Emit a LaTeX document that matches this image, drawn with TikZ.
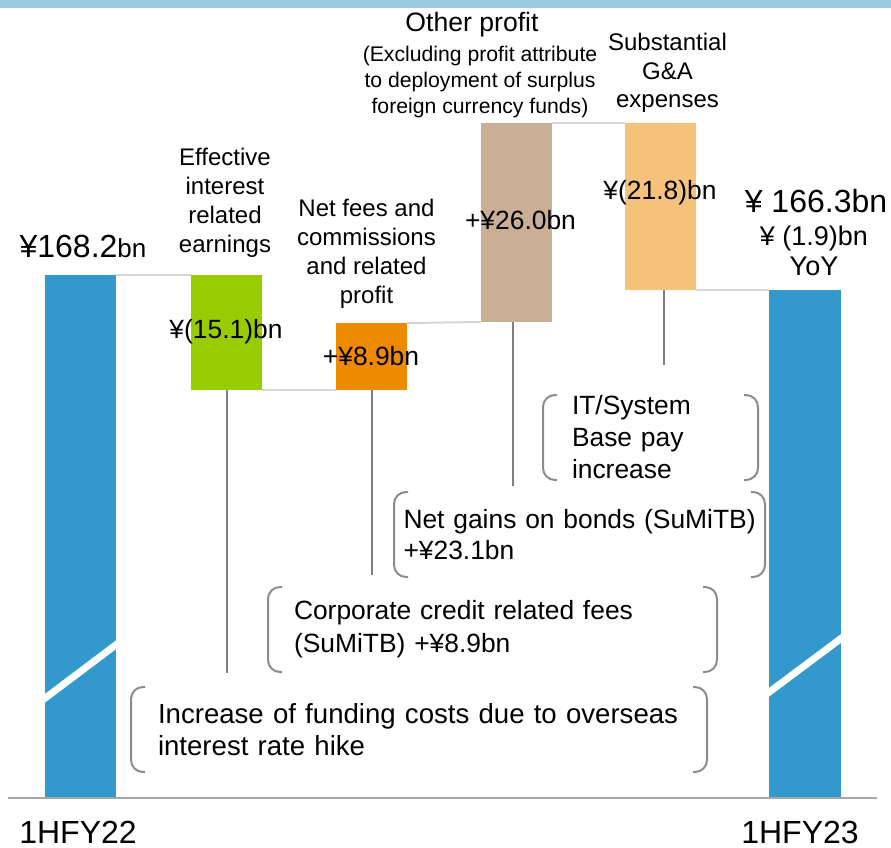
\documentclass[tikz,border=0pt]{standalone}
\usepackage{fontspec}
\setmainfont{Liberation Sans}
\usetikzlibrary{positioning}
\definecolor{barblue}{HTML}{3399CC}
\definecolor{bargreen}{HTML}{99CC00}
\definecolor{barorange}{HTML}{EE8A00}
\definecolor{bartan}{HTML}{C9AF96}
\definecolor{barpeach}{HTML}{F5C27C}
\definecolor{bandblue}{HTML}{9ACBE3}
\definecolor{linkgray}{HTML}{D6D6D6}
\definecolor{stemgray}{HTML}{7F7F7F}
\definecolor{parengray}{HTML}{8C8C8C}
\definecolor{axisgray}{HTML}{A6A6A6}
\newcommand\fsz[2]{\fontsize{#1}{#2}\selectfont}

\begin{document}
\begin{tikzpicture}[x=0.5pt,y=-0.5pt]
	\tikzset{
		bar/.style={rectangle, inner sep=0pt, outer sep=0pt, minimum width=35.5pt, anchor=north west},
		link/.style={draw=linkgray, line width=1pt},
		stem/.style={draw=stemgray, line width=1pt},
		paren/.style={draw=parengray, line width=1pt, rounded corners=6pt},
		brk/.style={draw=white, line width=3.5pt},
		lbl/.style={inner sep=0pt, align=center, font=\fsz{12}{14.5}},
		val/.style={inner sep=0pt, align=center, font=\fsz{13.2}{15.5}},
		grp/.style={rectangle, inner ysep=0pt, outer sep=0pt, minimum height=42.5pt, align=left, font=\fsz{13.2}{16}}
	}
	\useasboundingbox (0,0) rectangle (891,848);
	\fill[bandblue] (0,0) rectangle (891,8);

	% bars
	\node[bar, fill=barblue, minimum height=261.5pt] (b1) at (45,275) {};
	\node[bar, fill=bargreen, minimum height=57.5pt] (gb) at (191,275) {};
	\node[bar, fill=barorange, minimum height=33.5pt] (ob) at (336,323) {};
	\node[bar, fill=bartan, minimum height=99.5pt] (tb) at (481,123) {};
	\node[bar, fill=barpeach, minimum height=83.5pt] (pb) at (625,123) {};
	\node[bar, fill=barblue, minimum height=254pt, minimum width=36pt] (b2) at (769,290) {};
	\draw[brk] (40,702) -- (121,641);
	\draw[brk] (764,696) -- (847,634);

	% axis
	\draw[draw=axisgray, line width=1pt] (8,798) -- (877,798);

	% links between bars
	\draw[link] (b1.north east) -- (gb.north west);
	\draw[link] (gb.south east) -- (ob.south west);
	\draw[link] (ob.north east) -- (tb.south west);
	\draw[link] (tb.north east) -- (pb.north west);
	\draw[link] (pb.south east) -- (b2.north west);

	% breakdown groups
	\node[grp, text width=78.5pt, inner xsep=14.5pt] (itGrp) at (650.5,437.5) {IT/System\\Base pay\\increase};
	\node[grp, text width=176pt, inner xsep=4.75pt, font=\fsz{13.2}{15.5}] (bondGrp) at (579.5,534.5) {\mbox{Net gains on bonds (SuMiTB)}\\+¥23.1bn};
	\node[grp, text width=198.5pt, inner xsep=13pt, font=\fsz{13.2}{16.5}] (corpGrp) at (492.5,629.5) {Corporate credit related fees\\(SuMiTB) +¥8.9bn};
	\node[grp, text width=261pt, inner xsep=13.5pt, font=\fsz{13.8}{16}] (incGrp) at (419,729.5) {\mbox{Increase of funding costs due to overseas}\\interest rate hike};
	\foreach \g in {itGrp,bondGrp,corpGrp,incGrp} {
		\draw[paren] ([xshift=7pt]\g.north west) -- (\g.north west) -- (\g.south west) -- ([xshift=7pt]\g.south west);
		\draw[paren] ([xshift=-7pt]\g.north east) -- (\g.north east) -- (\g.south east) -- ([xshift=-7pt]\g.south east);
	}

	% stems
	\draw[stem] (gb.south) -- ([yshift=7pt]gb.south |- incGrp.north);
	\draw[stem] (ob.south) -- ([yshift=6pt]ob.south |- corpGrp.north);
	\draw[stem] ([xshift=-2pt]tb.south) -- ([xshift=-2pt,yshift=3pt]tb.south |- bondGrp.north);
	\draw[stem] ([xshift=1.5pt]pb.south) -- ([xshift=1.5pt,yshift=15pt]pb.south |- itGrp.north);

	% labels
	\node[inner sep=0pt] (startVal) at (83,246) {\fsz{16}{19}¥168.2\fsz{13}{15}bn};
	\node[lbl] (effLbl) at (225,203) {Effective\\interest\\related\\earnings};
	\node[lbl] (feeLbl) at (366.5,254) {Net fees and\\commissions\\and related\\profit};
	\node[inner sep=0pt, font=\fsz{13.3}{16}] (othTitle) at (472,25) {Other profit};
	\node[inner sep=0pt, align=center, font=\fsz{10.6}{13}] (othSub) at (480,82) {(Excluding profit attribute\\to deployment of surplus\\foreign currency funds)};
	\node[lbl, font=\fsz{12}{14.25}] (gaLbl) at (667.5,73) {Substantial\\G\&A\\expenses};

	\node[val] (effVal) at (226,332) {¥(15.1)bn};
	\node[val] (feeVal) at (371,356) {+¥8.9bn};
	\node[val] (othVal) at (520.5,220) {+¥26.0bn};
	\node[val] (gaVal) at (660,193) {¥(21.8)bn};

	\node[inner sep=0pt, font=\fsz{16}{19}] (endVal) at (816,201) {¥ 166.3bn};
	\node[val, font=\fsz{13.5}{15}] (yoyVal) at (814,251) {¥ (1.9)bn\\YoY};

	\node[inner sep=0pt, font=\fsz{16}{19}] (xOne) at (78,832) {1HFY22};
	\node[inner sep=0pt, font=\fsz{16}{19}] (xTwo) at (800,832) {1HFY23};
\end{tikzpicture}
\end{document}
